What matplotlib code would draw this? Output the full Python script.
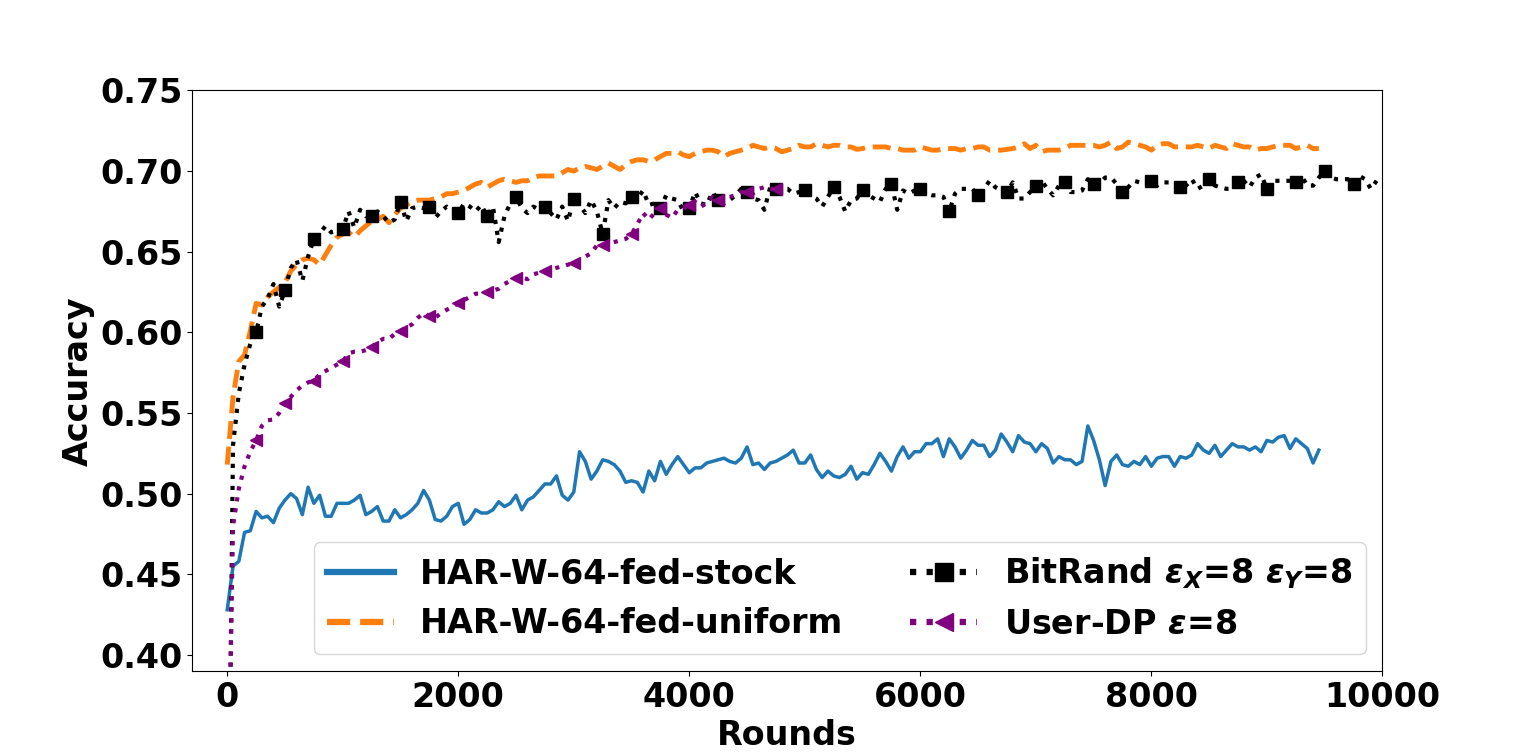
import matplotlib
matplotlib.use("Agg")
import matplotlib.pyplot as plt
import numpy as np

plt.rcParams['font.family'] = ['DejaVu Sans']
plt.rcParams['font.weight'] = 'bold'
plt.rcParams['axes.labelweight'] = 'bold'
plt.rcParams['font.size'] = 24
plt.rcParams['mathtext.fontset'] = 'dejavusans'

step = 50

stock = [
    0.428, 0.455, 0.458, 0.476, 0.477, 0.489, 0.485, 0.486, 0.482, 0.491,
    0.496, 0.500, 0.497, 0.487, 0.504, 0.494, 0.499, 0.486, 0.486, 0.494,
    0.494, 0.494, 0.496, 0.499, 0.487, 0.489, 0.492, 0.483, 0.483, 0.490,
    0.485, 0.487, 0.490, 0.494, 0.502, 0.496, 0.484, 0.483, 0.486, 0.492,
    0.494, 0.481, 0.484, 0.490, 0.488, 0.488, 0.490, 0.495, 0.492, 0.494,
    0.499, 0.490, 0.496, 0.498, 0.502, 0.506, 0.506, 0.511, 0.499, 0.496,
    0.501, 0.526, 0.520, 0.509, 0.514, 0.521, 0.520, 0.518, 0.514, 0.507,
    0.508, 0.507, 0.501, 0.514, 0.508, 0.520, 0.512, 0.518, 0.523, 0.518,
    0.513, 0.516, 0.516, 0.519, 0.520, 0.521, 0.522, 0.520, 0.519, 0.522,
    0.529, 0.518, 0.519, 0.515, 0.519, 0.520, 0.522, 0.524, 0.527, 0.519,
    0.519, 0.524, 0.515, 0.510, 0.514, 0.511, 0.510, 0.512, 0.517, 0.509,
    0.513, 0.512, 0.518, 0.525, 0.520, 0.514, 0.523, 0.529, 0.522, 0.526,
    0.526, 0.531, 0.531, 0.534, 0.523, 0.534, 0.529, 0.522, 0.527, 0.533,
    0.530, 0.530, 0.523, 0.527, 0.537, 0.532, 0.526, 0.536, 0.532, 0.531,
    0.526, 0.531, 0.528, 0.519, 0.523, 0.521, 0.521, 0.518, 0.520, 0.542,
    0.533, 0.521, 0.505, 0.520, 0.524, 0.518, 0.517, 0.520, 0.518, 0.523,
    0.517, 0.522, 0.523, 0.523, 0.517, 0.523, 0.522, 0.524, 0.531, 0.527,
    0.525, 0.530, 0.523, 0.527, 0.531, 0.529, 0.529, 0.527, 0.529, 0.526,
    0.533, 0.532, 0.535, 0.536, 0.528, 0.534, 0.531, 0.528, 0.519, 0.527,
]

uniform = [
    0.518, 0.560, 0.582, 0.586, 0.601, 0.618, 0.617, 0.622, 0.625, 0.628,
    0.631, 0.638, 0.642, 0.645, 0.646, 0.645, 0.642, 0.648, 0.654, 0.659,
    0.661, 0.662, 0.659, 0.663, 0.666, 0.669, 0.670, 0.672, 0.668, 0.673,
    0.677, 0.679, 0.681, 0.682, 0.682, 0.682, 0.683, 0.684, 0.686, 0.686,
    0.687, 0.688, 0.690, 0.692, 0.693, 0.690, 0.692, 0.694, 0.695, 0.694,
    0.693, 0.694, 0.694, 0.696, 0.697, 0.697, 0.697, 0.697, 0.699, 0.701,
    0.700, 0.702, 0.703, 0.702, 0.701, 0.703, 0.705, 0.703, 0.701, 0.704,
    0.706, 0.707, 0.707, 0.706, 0.707, 0.709, 0.711, 0.711, 0.712, 0.710,
    0.709, 0.711, 0.712, 0.713, 0.713, 0.712, 0.709, 0.711, 0.712, 0.713,
    0.714, 0.716, 0.715, 0.714, 0.715, 0.714, 0.712, 0.713, 0.714, 0.716,
    0.715, 0.715, 0.717, 0.716, 0.715, 0.716, 0.716, 0.715, 0.715, 0.7135,
    0.714, 0.715, 0.715, 0.715, 0.715, 0.714, 0.714, 0.713, 0.713, 0.713,
    0.715, 0.714, 0.713, 0.713, 0.714, 0.714, 0.714, 0.713, 0.714, 0.714,
    0.715, 0.715, 0.713, 0.713, 0.713, 0.7135, 0.714, 0.715, 0.717, 0.714,
    0.716, 0.712, 0.713, 0.713, 0.713, 0.714, 0.716, 0.716, 0.716, 0.716,
    0.716, 0.715, 0.716, 0.718, 0.714, 0.715, 0.718, 0.717, 0.716, 0.715,
    0.713, 0.716, 0.717, 0.717, 0.715, 0.715, 0.715, 0.715, 0.716, 0.715,
    0.714, 0.716, 0.715, 0.714, 0.717, 0.716, 0.715, 0.715, 0.713, 0.714,
    0.714, 0.715, 0.716, 0.716, 0.716, 0.714, 0.715, 0.716, 0.714, 0.714,
]

bitrand = [
    0.200, 0.530, 0.562, 0.580, 0.593, 0.600, 0.616, 0.621, 0.630, 0.616,
    0.626, 0.640, 0.645, 0.632, 0.647, 0.658, 0.661, 0.666, 0.662, 0.663,
    0.664, 0.675, 0.665, 0.676, 0.672, 0.672, 0.675, 0.672, 0.668, 0.670,
    0.681, 0.669, 0.677, 0.678, 0.677, 0.678, 0.671, 0.675, 0.678, 0.676,
    0.674, 0.680, 0.678, 0.675, 0.679, 0.672, 0.678, 0.656, 0.672, 0.680,
    0.684, 0.677, 0.674, 0.678, 0.676, 0.678, 0.674, 0.670, 0.678, 0.669,
    0.683, 0.679, 0.674, 0.682, 0.675, 0.661, 0.682, 0.677, 0.681, 0.680,
    0.684, 0.683, 0.688, 0.679, 0.680, 0.677, 0.685, 0.683, 0.682, 0.675,
    0.677, 0.687, 0.680, 0.679, 0.687, 0.682, 0.680, 0.682, 0.685, 0.689,
    0.687, 0.683, 0.682, 0.676, 0.690, 0.689, 0.689, 0.689, 0.686, 0.687,
    0.688, 0.685, 0.683, 0.678, 0.684, 0.690, 0.684, 0.675, 0.682, 0.683,
    0.688, 0.685, 0.683, 0.681, 0.689, 0.692, 0.676, 0.688, 0.686, 0.688,
    0.689, 0.686, 0.685, 0.685, 0.684, 0.675, 0.686, 0.689, 0.689, 0.689,
    0.685, 0.689, 0.694, 0.690, 0.688, 0.687, 0.693, 0.683, 0.683, 0.687,
    0.691, 0.694, 0.689, 0.685, 0.691, 0.693, 0.687, 0.687, 0.688, 0.695,
    0.692, 0.692, 0.696, 0.696, 0.692, 0.687, 0.690, 0.694, 0.693, 0.692,
    0.694, 0.691, 0.693, 0.693, 0.693, 0.690, 0.691, 0.695, 0.689, 0.691,
    0.695, 0.691, 0.690, 0.689, 0.689, 0.693, 0.694, 0.690, 0.696, 0.698,
    0.689, 0.694, 0.694, 0.694, 0.694, 0.693, 0.697, 0.691, 0.691, 0.696,
    0.700, 0.696, 0.695, 0.695, 0.695, 0.692, 0.697, 0.695, 0.689, 0.694,
]

userdp = [
    0.270, 0.480, 0.503, 0.517, 0.526, 0.533, 0.542, 0.5455, 0.546, 0.550,
    0.556, 0.560, 0.564, 0.567, 0.569, 0.570, 0.574, 0.576, 0.578, 0.580,
    0.582, 0.587, 0.588, 0.588, 0.589, 0.591, 0.594, 0.596, 0.596, 0.599,
    0.601, 0.603, 0.605, 0.609, 0.612, 0.610, 0.609, 0.612, 0.614, 0.616,
    0.618, 0.620, 0.622, 0.624, 0.624, 0.625, 0.626, 0.627, 0.630, 0.632,
    0.634, 0.634, 0.633, 0.636, 0.637, 0.638, 0.639, 0.640, 0.641, 0.642,
    0.643, 0.645, 0.647, 0.649, 0.654, 0.654, 0.655, 0.656, 0.657, 0.658,
    0.661, 0.667, 0.674, 0.670, 0.674, 0.677, 0.673, 0.671, 0.676, 0.677,
    0.679, 0.681, 0.678, 0.680, 0.684, 0.682, 0.683, 0.684, 0.685, 0.687,
    0.687, 0.686, 0.689, 0.690, 0.689, 0.689, 0.690,
]

labels = [
    'HAR-W-64-fed-stock',
    'HAR-W-64-fed-uniform',
    r'BitRand $\mathbfit{\varepsilon}_{\mathbfit{X}}$=8 $\mathbfit{\varepsilon}_{\mathbfit{Y}}$=8',
    r'User-DP $\mathbfit{\varepsilon}$=8',
]

x_stock = np.arange(len(stock)) * step
x_uniform = np.arange(len(uniform)) * step
x_bitrand = np.arange(len(bitrand)) * step
x_userdp = np.arange(len(userdp)) * step

fig = plt.figure(figsize=(15.36, 7.54), dpi=100)
ax = fig.add_subplot(111)

ax.plot(x_stock, stock, color='#1f77b4', lw=2.5, label=labels[0])
ax.plot(x_uniform, uniform, color='#ff7f0e', lw=3.5, ls='--', label=labels[1])
ax.plot(x_bitrand, bitrand, color='black', lw=3, ls=':', marker='s',
        markersize=8, markevery=5, label=labels[2])
ax.plot(x_userdp, userdp, color='purple', lw=3, ls=':', marker='<',
        markersize=9, markevery=5, label=labels[3])

ax.set_xlim(-305, 10000)
ax.set_ylim(0.39, 0.75)
ax.set_yticks(np.arange(0.40, 0.751, 0.05))
ax.set_xlabel('Rounds')
ax.set_ylabel('Accuracy')

leg = ax.legend(loc='lower right', ncol=2, fontsize=24)
for ln in leg.get_lines():
    ln.set_linewidth(4.5)
    ln.set_markersize(13)

fig.savefig('out.png', dpi=100)
